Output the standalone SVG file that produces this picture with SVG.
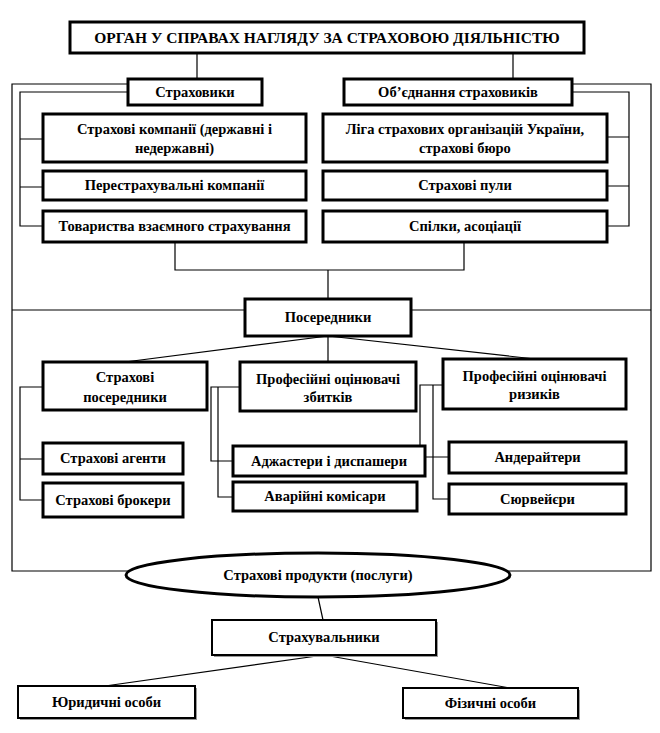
<svg xmlns="http://www.w3.org/2000/svg" width="660" height="733" viewBox="0 0 660 733">
<style>
.b{fill:#fff;stroke:#000;stroke-width:3}
.bt{fill:#fff;stroke:#000;stroke-width:2}
.sh{fill:#999}
.c{fill:none;stroke:#000;stroke-width:1.2}
.t{font-family:"Liberation Serif","DejaVu Serif",serif;font-weight:bold;font-size:14.5px;text-anchor:middle;fill:#000}
.tt{font-size:15.5px}
</style>
<rect width="660" height="733" fill="#fff"/>
<g id="connectors">
<path class="c" d="M197,53V79M513,53V79"/>
<path class="c" d="M128,84H12V571H130M572,84H651V571H506"/>
<path class="c" d="M128,92H20V226H43M20,139H43M20,187H43"/>
<path class="c" d="M572,92H629V226H607M607,137H629M607,186H629"/>
<path class="c" d="M175,242V270H464V242M328,270V299"/>
<path class="c" d="M12,310H245M411,310H651"/>
<path class="c" d="M328,336L125,362M328,336V362M328,336L535,359"/>
<path class="c" d="M43,387H20V500H43M20,459H43"/>
<path class="c" d="M240,387H211V461H233M218,387V497H233"/>
<path class="c" d="M443,385H420V457H449M433,385V499H449"/>
<path class="c" d="M318,597L323,620M324,655L105,686M324,655L510,688"/>
</g>
<g id="n-organ"><rect class="b" x="70" y="22" width="514" height="31"/><text class="t tt" x="327" y="43">ОРГАН У СПРАВАХ НАГЛЯДУ ЗА СТРАХОВОЮ ДІЯЛЬНІСТЮ</text></g>
<g id="n-strakhovyky"><rect class="b" x="128" y="79" width="134" height="26"/><text class="t" x="195" y="97">Страховики</text></g>
<g id="n-obiednannia"><rect class="b" x="344" y="79" width="228" height="26"/><text class="t" x="458" y="97">Об’єднання страховиків</text></g>
<g id="n-kompanii"><rect class="b" x="43" y="114" width="263" height="48"/><text class="t" x="174.5" y="134">Страхові компанії (державні і</text><text class="t" x="174.5" y="153">недержавні)</text></g>
<g id="n-perestrakh"><rect class="b" x="43" y="171" width="263" height="29"/><text class="t" x="174.5" y="190">Перестрахувальні  компанії</text></g>
<g id="n-tovarystva"><rect class="b" x="43" y="211" width="263" height="31"/><text class="t" x="174.5" y="231">Товариства взаємного страхування</text></g>
<g id="n-liha"><rect class="b" x="323" y="114" width="284" height="48"/><text class="t" x="465" y="134">Ліга страхових організацій  України,</text><text class="t" x="465" y="153">страхові бюро</text></g>
<g id="n-puly"><rect class="b" x="323" y="171" width="284" height="29"/><text class="t" x="465" y="190">Страхові пули</text></g>
<g id="n-spilky"><rect class="b" x="323" y="211" width="284" height="31"/><text class="t" x="465" y="231">Спілки, асоціації</text></g>
<g id="n-poserednyky"><rect class="b" x="245" y="299" width="166" height="37"/><text class="t" x="328" y="322">Посередники</text></g>
<g id="n-str-poser"><rect class="b" x="43" y="362" width="164" height="48"/><text class="t" x="125" y="382">Страхові</text><text class="t" x="125" y="402">посередники</text></g>
<g id="n-zbytkiv"><rect class="b" x="240" y="362" width="176" height="49"/><text class="t" x="328" y="384">Професійні  оцінювачі</text><text class="t" x="328" y="402">збитків</text></g>
<g id="n-ryzykiv"><rect class="b" x="443" y="359" width="183" height="50"/><text class="t" x="534.5" y="381">Професійні  оцінювачі</text><text class="t" x="534.5" y="399">ризиків</text></g>
<g id="n-agenty"><rect class="b" x="43" y="443" width="140" height="31"/><text class="t" x="113" y="463">Страхові агенти</text></g>
<g id="n-brokery"><rect class="b" x="43" y="483" width="140" height="34"/><text class="t" x="113" y="505">Страхові брокери</text></g>
<g id="n-adzhastery"><rect class="b" x="233" y="446" width="192" height="30"/><text class="t" x="329" y="466">Аджастери і диспашери</text></g>
<g id="n-avariini"><rect class="b" x="233" y="482" width="184" height="29"/><text class="t" x="325" y="501">Аварійні комісари</text></g>
<g id="n-anderaitery"><rect class="b" x="449" y="442" width="177" height="31"/><text class="t" x="537.5" y="462">Андерайтери</text></g>
<g id="n-siurveiery"><rect class="b" x="449" y="484" width="177" height="30"/><text class="t" x="537.5" y="504">Сюрвейєри</text></g>
<g id="n-produkty"><ellipse class="b" cx="318" cy="575" rx="192" ry="22"/><text class="t" x="318" y="580">Страхові продукти (послуги)</text></g>
<g id="n-strakhuvalnyky"><rect class="sh" x="214" y="622" width="224" height="35"/><rect class="bt" x="212" y="620" width="224" height="35"/><text class="t" x="324" y="642">Страхувальники</text></g>
<g id="n-yurydychni"><rect class="sh" x="20" y="688" width="177" height="32"/><rect class="bt" x="18" y="686" width="177" height="32"/><text class="t" x="106.5" y="707">Юридичні особи</text></g>
<g id="n-fizychni"><rect class="sh" x="405" y="690" width="175" height="30"/><rect class="bt" x="403" y="688" width="175" height="30"/><text class="t" x="490.5" y="708">Фізичні особи</text></g>
</svg>
